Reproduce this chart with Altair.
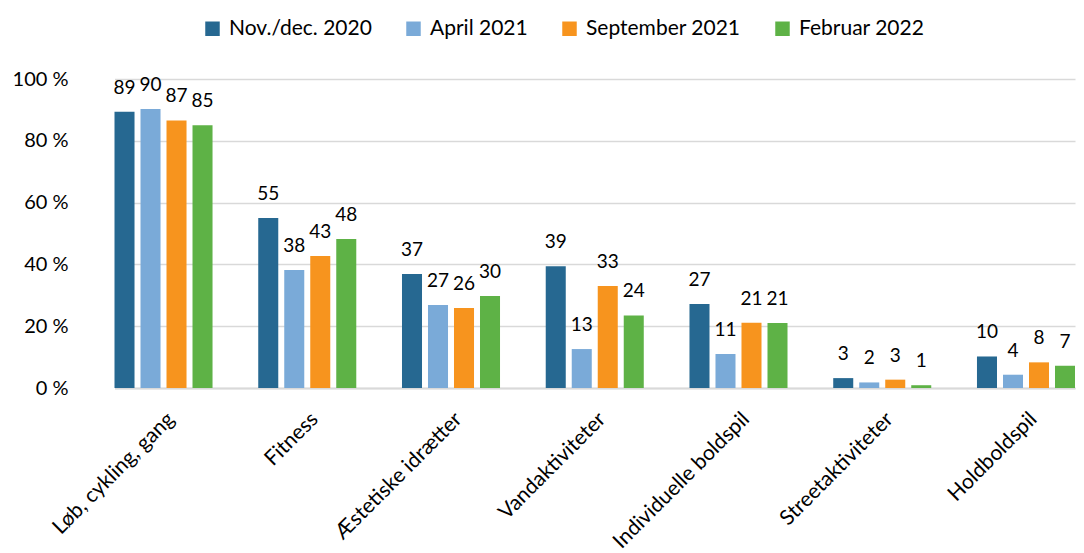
import altair as alt
import pandas as pd

categories = ["Løb, cykling, gang", "Fitness", "Æstetiske idrætter", "Vandaktiviteter",
              "Individuelle boldspil", "Streetaktiviteter", "Holdboldspil"]
series = ["Nov./dec. 2020", "April 2021", "September 2021", "Februar 2022"]
colors = ["#266891", "#7AAAD8", "#F7941E", "#5EB246"]

nov_dec_2020 = [89.4, 55.0, 36.9, 39.4, 27.2, 3.2, 10.2]
april_2021 = [90.3, 38.2, 26.9, 12.6, 11.0, 1.8, 4.3]
september_2021 = [86.6, 42.7, 25.9, 33.0, 21.1, 2.7, 8.3]
februar_2022 = [85.0, 48.2, 29.8, 23.5, 21.0, 0.9, 7.2]

rows = []
for s, vals in zip(series, [nov_dec_2020, april_2021, september_2021, februar_2022]):
    for c, v in zip(categories, vals):
        rows.append({"Kategori": c, "Serie": s, "Værdi": v, "Label": str(int(round(v)))})
df = pd.DataFrame(rows)

FONT = "Lato"

x = alt.X("Kategori:N", sort=categories, title=None,
          scale=alt.Scale(paddingInner=0.318, paddingOuter=0, range=[22.5, 983]),
          axis=alt.Axis(labelAngle=-45, labelAlign="right", labelBaseline="top",
                        labelPadding=20, labelOffset=0, ticks=False, labelFontSize=21,
                        labelFont=FONT, labelColor="#000000", domainColor="#D9D9D9",
                        domainWidth=2, grid=False, labelLimit=400))
xo = alt.XOffset("Serie:N", sort=series, scale=alt.Scale(paddingInner=0.23, paddingOuter=0))
y = alt.Y("Værdi:Q", title=None,
          scale=alt.Scale(domain=[0, 100], nice=False),
          axis=alt.Axis(values=[0, 20, 40, 60, 80, 100], labelExpr="datum.value + ' %'",
                        labelFontSize=20, labelFont=FONT, labelColor="#000000",
                        labelPadding=24, ticks=False, domain=False, gridColor="#D9D9D9",
                        gridWidth=1.5, minExtent=84, maxExtent=84))
color = alt.Color("Serie:N", sort=series,
                  scale=alt.Scale(domain=series, range=colors),
                  legend=alt.Legend(title=None, orient="none", direction="horizontal",
                                    legendX=110, legendY=-61, symbolType="square",
                                    symbolSize=210, symbolStrokeWidth=0, labelFontSize=21,
                                    labelFont=FONT, labelColor="#000000", columnPadding=31,
                                    labelOffset=6, symbolOpacity=1))

bars = alt.Chart(df).mark_bar(opacity=1).encode(x=x, xOffset=xo, y=y, color=color)
labels = alt.Chart(df).mark_text(baseline="alphabetic", dy=-18, fontSize=19, font=FONT,
                                 color="#000000").encode(
    x=x, xOffset=xo, y=y, text="Label:N")

chart = (bars + labels).properties(
    width=984, height=309,
    padding={"left": 0, "top": 10, "right": 0, "bottom": 0},
).configure_view(stroke=None)

chart.save("out.html", embed_options={"renderer": "svg", "actions": False})
